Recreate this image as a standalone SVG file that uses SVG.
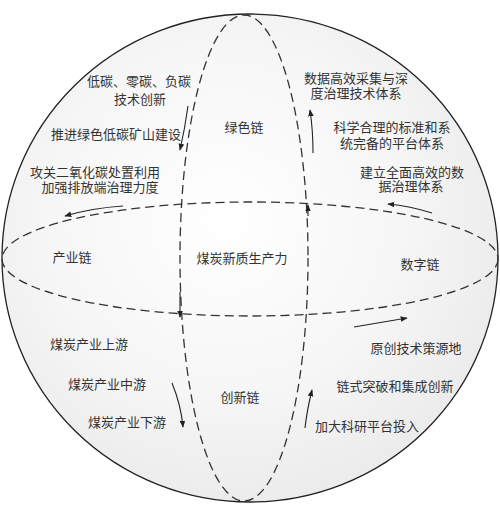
<svg xmlns="http://www.w3.org/2000/svg" width="500" height="518" viewBox="0 0 500 518">
<defs>
<radialGradient id="sph" cx="45%" cy="42%" r="60%">
<stop offset="0" stop-color="#ffffff"/>
<stop offset="0.6" stop-color="#f6f6f6"/>
<stop offset="1" stop-color="#ebebeb"/>
</radialGradient>
<marker id="ah" viewBox="0 0 10 10" refX="9" refY="5" markerWidth="7" markerHeight="7" markerUnits="userSpaceOnUse" orient="auto">
<path d="M0,1 L10,5 L0,9 Z" fill="#222"/>
</marker>
<style>
.t{font-family:"Liberation Serif","Noto Sans CJK SC",serif;font-size:13px;fill:#333;text-anchor:middle}
.d{fill:none;stroke:#333;stroke-width:1.3;stroke-dasharray:9 5}
.a{fill:none;stroke:#222;stroke-width:1.1;marker-end:url(#ah)}
</style>
</defs>
<rect width="500" height="518" fill="#ffffff"/>
<g id="sphere">
<ellipse cx="250" cy="258" rx="248" ry="244" fill="url(#sph)" stroke="#222" stroke-width="1.3"/>
</g>
<g id="connectors">
<ellipse class="d" cx="244" cy="258" rx="64" ry="243"/>
<ellipse class="d" cx="250" cy="259" rx="248" ry="57"/>
<path class="a" d="M188,106 Q185,128 180,150"/>
<path class="a" d="M123,206 Q92,208 65,216"/>
<path class="a" d="M313,153 Q313,130 310,110"/>
<path class="a" d="M432,213 Q410,206 388,204"/>
<path class="a" d="M354,327 L407,318"/>
<path class="a" d="M305,428 Q307,410 312,390"/>
<path class="a" d="M172,383 Q181,405 183,427"/>
<path class="a" d="M308,216 L308,205"/>
<path class="a" d="M180,292 L180,317"/>
</g>
<g id="node-center"><text class="t" x="242" y="263">煤炭新质生产力</text></g>
<g id="node-green"><text class="t" x="244" y="132">绿色链</text></g>
<g id="node-industry"><text class="t" x="72" y="262">产业链</text></g>
<g id="node-digital"><text class="t" x="420" y="269">数字链</text></g>
<g id="node-innovation"><text class="t" x="240" y="402">创新链</text></g>
<g id="labels-green">
<text class="t" x="139" y="86">低碳、零碳、负碳</text>
<text class="t" x="140" y="104">技术创新</text>
<text class="t" x="116" y="139">推进绿色低碳矿山建设</text>
<text class="t" x="95" y="177">攻关二氧化碳处置利用</text>
<text class="t" x="100" y="192">加强排放端治理力度</text>
</g>
<g id="labels-digital">
<text class="t" x="356" y="83">数据高效采集与深</text>
<text class="t" x="356" y="98">度治理技术体系</text>
<text class="t" x="392" y="132">科学合理的标准和系</text>
<text class="t" x="392" y="148">统完备的平台体系</text>
<text class="t" x="412" y="177">建立全面高效的数</text>
<text class="t" x="411" y="191">据治理体系</text>
</g>
<g id="labels-industry">
<text class="t" x="89" y="349">煤炭产业上游</text>
<text class="t" x="107" y="389">煤炭产业中游</text>
<text class="t" x="127" y="427">煤炭产业下游</text>
</g>
<g id="labels-innovation">
<text class="t" x="416" y="353">原创技术策源地</text>
<text class="t" x="395" y="391">链式突破和集成创新</text>
<text class="t" x="367" y="431">加大科研平台投入</text>
</g>
</svg>
